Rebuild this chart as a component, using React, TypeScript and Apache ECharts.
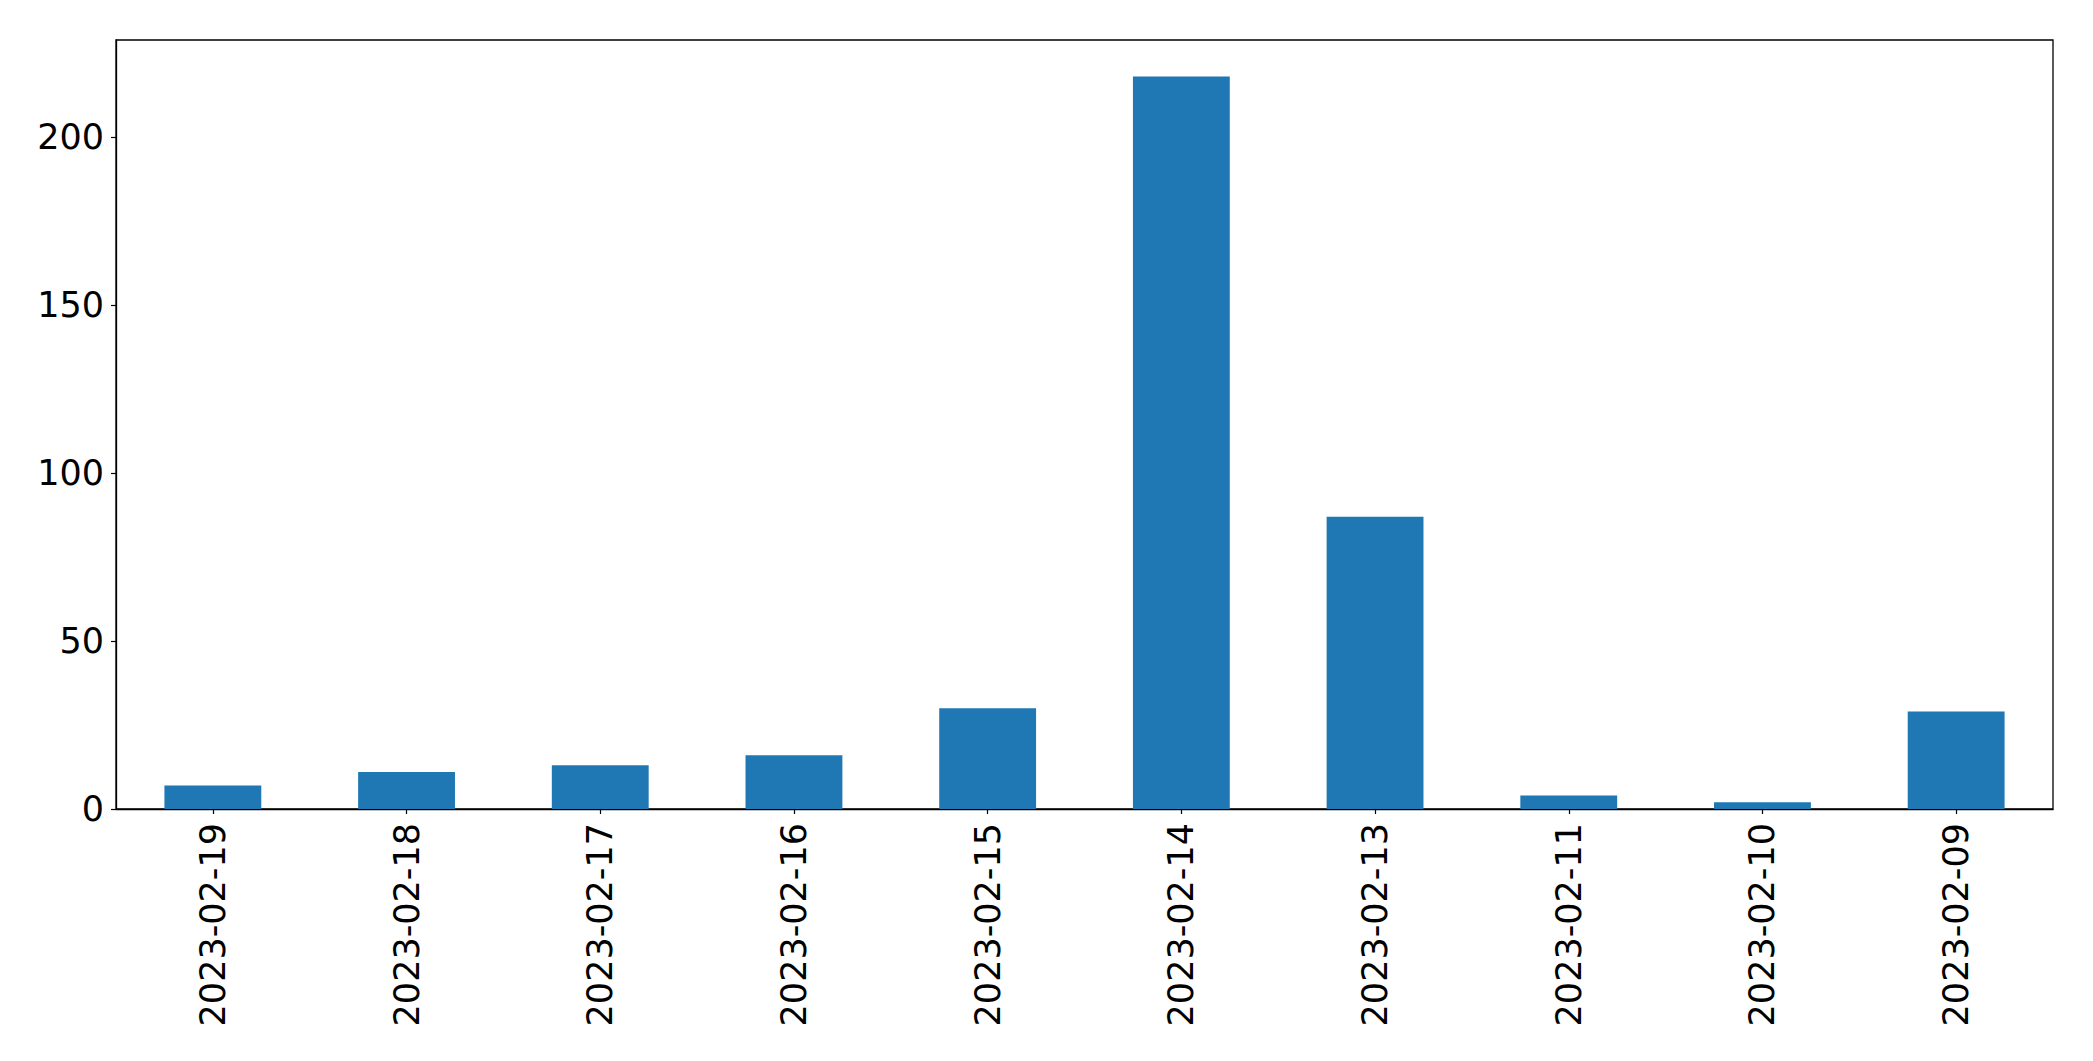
import React, { useEffect, useRef } from "react";
import * as echarts from "echarts";

const categories = [
  "2023-02-19",
  "2023-02-18",
  "2023-02-17",
  "2023-02-16",
  "2023-02-15",
  "2023-02-14",
  "2023-02-13",
  "2023-02-11",
  "2023-02-10",
  "2023-02-09",
];
const counts = [7, 11, 13, 16, 30, 218, 87, 4, 2, 29];
const yTicks = [0, 50, 100, 150, 200];

export default function App() {
  const ref = useRef<HTMLDivElement>(null);
  useEffect(() => {
    if (!ref.current) return;
    const chart = echarts.init(ref.current, null, { renderer: "svg" });
    const font = "DejaVu Sans";
    chart.setOption({
      animation: false,
      backgroundColor: "#ffffff",
      grid: {
        left: 116,
        top: 40,
        width: 1937,
        height: 769,
        show: true,
        borderColor: "#000000",
        borderWidth: 1.3,
        backgroundColor: "transparent",
      },
      xAxis: {
        type: "category",
        data: categories,
        boundaryGap: true,
        axisLine: { show: true, lineStyle: { color: "#000000", width: 1.3 } },
        axisTick: { show: true, alignWithLabel: true, length: 5, lineStyle: { color: "#000000", width: 1.2 } },
        axisLabel: {
          rotate: 90,
          margin: 14,
          color: "#000000",
          fontFamily: font,
          fontSize: 35,
          interval: 0,
        },
        splitLine: { show: false },
      },
      yAxis: {
        type: "value",
        min: 0,
        max: Math.round(Math.max(...counts) * 1.05 * 100) / 100,
        interval: 50,
        axisLine: { show: true, lineStyle: { color: "#000000", width: 1.3 } },
        axisTick: { show: true, length: 5, lineStyle: { color: "#000000", width: 1.2 } },
        axisLabel: {
          margin: 12,
          color: "#000000",
          fontFamily: font,
          fontSize: 35,
          showMaxLabel: false,
          formatter: (v: number) => (yTicks.includes(v) ? String(v) : ""),
        },
        splitLine: { show: false },
      },
      series: [
        {
          type: "bar",
          data: counts,
          barWidth: "50%",
          itemStyle: { color: "#1f77b4" },
        },
      ],
    });
    return () => chart.dispose();
  }, []);
  return (
    <div
      ref={ref}
      style={{ position: "fixed", left: 0, top: 0, width: 2093, height: 1061, background: "#fff" }}
    />
  );
}
